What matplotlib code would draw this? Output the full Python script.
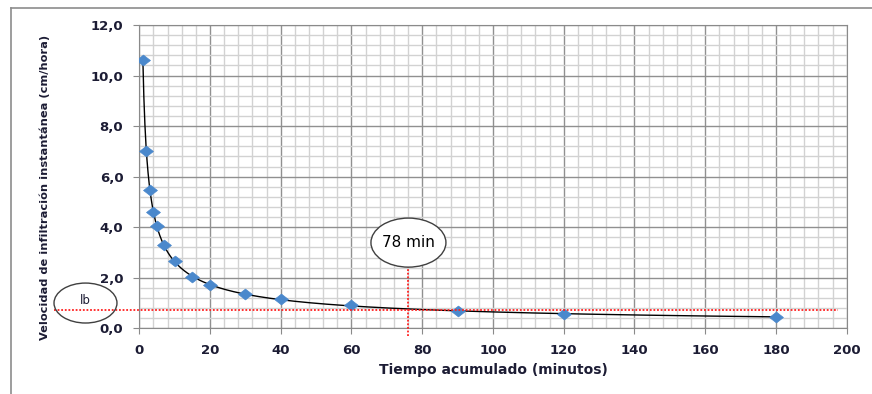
import numpy as np
import matplotlib.pyplot as plt
from matplotlib.patches import Ellipse
from matplotlib.ticker import MultipleLocator, FuncFormatter

plt.rcParams['font.family'] = ['DejaVu Sans']

# datos
tiempo = [1, 2, 3, 4, 5, 7, 10, 15, 20, 30, 40, 60, 90, 120, 180]
velocidad = [10.6, 7.0, 5.47, 4.61, 4.05, 3.28, 2.66, 2.04, 1.72, 1.37, 1.16, 0.91, 0.70, 0.55, 0.45]

ib = 0.72
t_ib = 76
etiqueta_t = "78 min"
etiqueta_ib = "lb"

# linea de tendencia potencial
b, log_a = np.polyfit(np.log(tiempo), np.log(velocidad), 1)
t_fit = np.linspace(1, 180, 600)
v_fit = np.exp(log_a) * t_fit**b

fig = plt.figure(figsize=(8.72, 3.94), dpi=100)
ax = fig.add_axes([0.1597, 0.1667, 0.8113, 0.770])

# marco exterior
fig.add_artist(plt.Line2D([11/872, 11/872], [0, 1 - 8/394], color='#8c8c8c', lw=1.2))
fig.add_artist(plt.Line2D([11/872, 1], [1 - 8/394, 1 - 8/394], color='#8c8c8c', lw=1.2))

rombo = [(-1, 0), (0, 0.78), (1, 0), (0, -0.78), (-1, 0)]
ax.plot(t_fit, v_fit, color='black', lw=1.0, zorder=3)
ax.plot(tiempo, velocidad, linestyle='none', marker=rombo, markersize=10,
        color='#4a88cc', markeredgecolor='#4a88cc', markeredgewidth=0.5, zorder=4)

ax.set_xlim(0, 200)
ax.set_ylim(0, 12)
ax.xaxis.set_major_locator(MultipleLocator(20))
ax.xaxis.set_minor_locator(MultipleLocator(4))
ax.yaxis.set_major_locator(MultipleLocator(2))
ax.yaxis.set_minor_locator(MultipleLocator(0.4))
ax.yaxis.set_major_formatter(FuncFormatter(lambda v, p: f"{v:.1f}".replace('.', ',')))

ax.grid(which='major', color='#909090', lw=1.0)
ax.grid(which='minor', color='#d2d2d2', lw=1.0)
ax.set_axisbelow(True)

for s in ax.spines.values():
    s.set_color('#8a8a8a')
ax.tick_params(which='major', length=4.5, color='#8a8a8a', labelsize=9.5,
               labelcolor='#1c1c34')
ax.tick_params(axis='y', which='major', pad=7)
ax.tick_params(axis='x', which='major', pad=7)
ax.tick_params(which='minor', length=0)
fig.canvas.draw()
for lab in ax.get_xticklabels() + ax.get_yticklabels():
    lab.set_fontweight('bold')

ax.set_xlabel("Tiempo acumulado (minutos)", fontsize=10, fontweight='bold', color='#1c1c34')
ax.xaxis.set_label_coords(0.5, -0.115)
fig.text(45/872, 1 - 187/394, "Velocidad de infiltración instantánea (cm/hora)",
         rotation=90, ha='center', va='center', fontsize=8.2, fontweight='bold',
         color='#1c1c34')

# lineas de referencia rojas
ax.plot([-24, 197.5], [ib, ib], color='#ff2020', lw=1.3, linestyle=(0, (1, 1)),
        clip_on=False, zorder=5)
ax.plot([t_ib, t_ib], [-0.31, 2.42], color='#ff2020', lw=1.3, linestyle=(0, (1, 1)),
        clip_on=False, zorder=5)

# elipses con textos
e1 = Ellipse((76.1, 3.39), 21.2, 1.94, fill=True, facecolor='white',
             edgecolor='#404040', lw=1.0, clip_on=False, zorder=6)
ax.add_patch(e1)
ax.text(76.1, 3.39, etiqueta_t, ha='center', va='center', fontsize=11, color='black', zorder=7)

e2 = Ellipse((-15.2, 1.0), 17.8, 1.58, fill=False, edgecolor='#404040', lw=1.0,
             clip_on=False, zorder=6)
ax.add_patch(e2)
ax.text(-15.2, 1.1, etiqueta_ib, ha='center', va='center', fontsize=8.5,
        color='#1c1c34', clip_on=False, zorder=7)

fig.savefig("out.png", dpi=100)
